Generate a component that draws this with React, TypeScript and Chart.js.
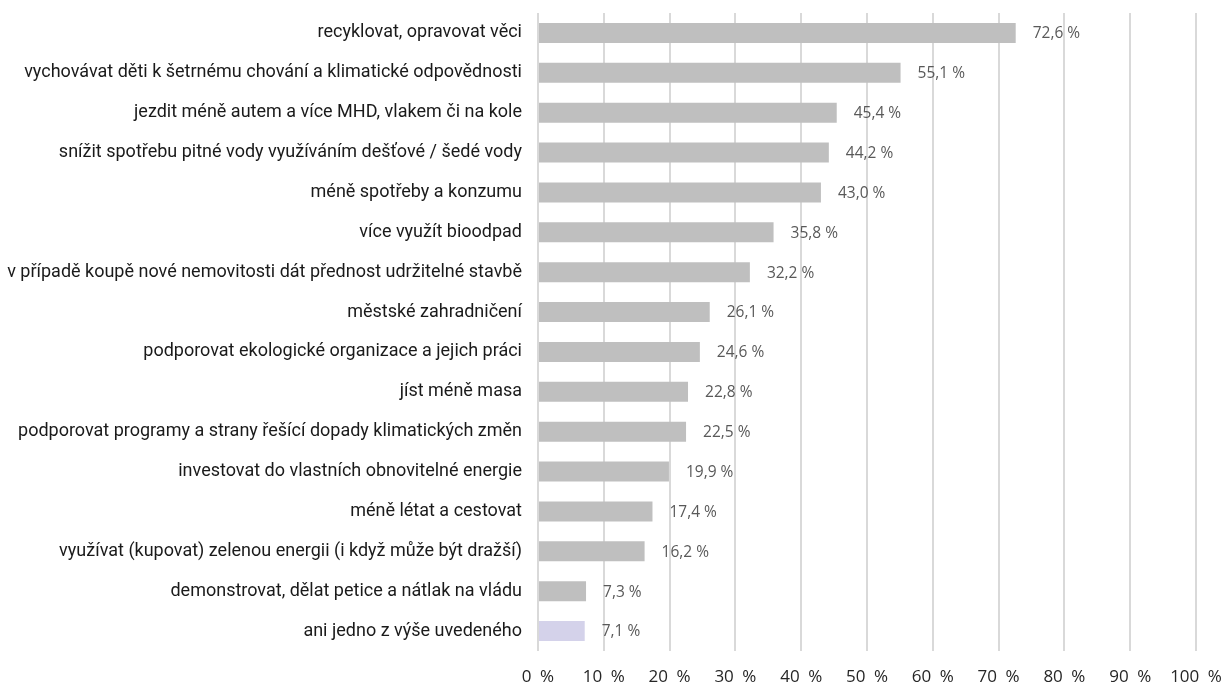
import React, { useEffect, useRef } from "react";
import { Chart, registerables } from "chart.js";

Chart.register(...registerables);

const categories = [
  "recyklovat, opravovat věci",
  "vychovávat děti k šetrnému chování a klimatické odpovědnosti",
  "jezdit méně autem a více MHD, vlakem či na kole",
  "snížit spotřebu pitné vody využíváním dešťové / šedé vody",
  "méně spotřeby a konzumu",
  "více využít bioodpad",
  "v případě koupě nové nemovitosti dát přednost udržitelné stavbě",
  "městské zahradničení",
  "podporovat ekologické organizace a jejich práci",
  "jíst méně masa",
  "podporovat programy a strany řešící dopady klimatických změn",
  "investovat do vlastních obnovitelné energie",
  "méně létat a cestovat",
  "využívat (kupovat) zelenou energii (i když může být dražší)",
  "demonstrovat, dělat petice a nátlak na vládu",
  "ani jedno z výše uvedeného",
];

const values = [72.6, 55.1, 45.4, 44.2, 43.0, 35.8, 32.2, 26.1, 24.6, 22.8, 22.5, 19.9, 17.4, 16.2, 7.3, 7.1];

const barColors = [
  "#BFBFBF", "#BFBFBF", "#BFBFBF", "#BFBFBF", "#BFBFBF", "#BFBFBF", "#BFBFBF", "#BFBFBF",
  "#BFBFBF", "#BFBFBF", "#BFBFBF", "#BFBFBF", "#BFBFBF", "#BFBFBF", "#BFBFBF", "#D4D2EA",
];

const xTickValues = [0, 10, 20, 30, 40, 50, 60, 70, 80, 90, 100];

const fmt = (v: number) => v.toFixed(1).replace(".", ",") + " %";

const labelPlugin = {
  id: "valueLabels",
  afterDatasetsDraw(chart: any) {
    const ctx = chart.ctx;
    const meta = chart.getDatasetMeta(0);
    ctx.save();
    ctx.font = '15.5px "Open Sans", sans-serif';
    ctx.fillStyle = "#595959";
    ctx.textAlign = "left";
    ctx.textBaseline = "middle";
    meta.data.forEach((bar: any, i: number) => {
      ctx.fillText(fmt(values[i]), bar.x + 17, bar.y + 1);
    });
    ctx.restore();
  },
};

export default function App() {
  const ref = useRef<HTMLCanvasElement | null>(null);

  useEffect(() => {
    document.body.style.margin = "0";
    const canvas = ref.current as HTMLCanvasElement;
    const chart = new Chart(canvas, {
      type: "bar",
      data: {
        labels: categories,
        datasets: [
          {
            data: values,
            backgroundColor: barColors,
            barPercentage: 0.5,
            categoryPercentage: 1,
          },
        ],
      },
      options: {
        indexAxis: "y",
        animation: false,
        responsive: false,
        maintainAspectRatio: false,
        layout: { padding: { top: 13, right: 29, left: 0, bottom: 0 } },
        plugins: {
          legend: { display: false },
          tooltip: { enabled: false },
        },
        scales: {
          x: {
            min: 0,
            max: 100,
            afterBuildTicks: (scale: any) => {
              scale.ticks = xTickValues.map((v) => ({ value: v }));
            },
            afterFit: (scale: any) => {
              scale.height = 33;
              scale.paddingLeft = 0;
              scale.paddingRight = 0;
            },
            grid: { color: "#D9D9D9", lineWidth: 2, drawTicks: false },
            border: { display: false },
            ticks: {
              padding: 16,
              color: "#262626",
              font: { family: '"Open Sans", sans-serif', size: 17 },
              callback: (v: any) => v + "\u2002%",
            },
          },
          y: {
            afterFit: (scale: any) => {
              scale.width = 538;
              scale.paddingTop = 0;
              scale.paddingBottom = 0;
            },
            grid: { display: false, drawTicks: false },
            border: { display: false },
            ticks: {
              padding: 16,
              color: "#1a1a1a",
              font: { family: "Roboto, sans-serif", size: 18 },
            },
          },
        },
      },
      plugins: [labelPlugin],
    });
    return () => chart.destroy();
  }, []);

  return (
    <div style={{ position: "absolute", left: 0, top: 0, width: 1225, height: 684, background: "#fff" }}>
      <canvas ref={ref} width={1225} height={684} />
    </div>
  );
}
